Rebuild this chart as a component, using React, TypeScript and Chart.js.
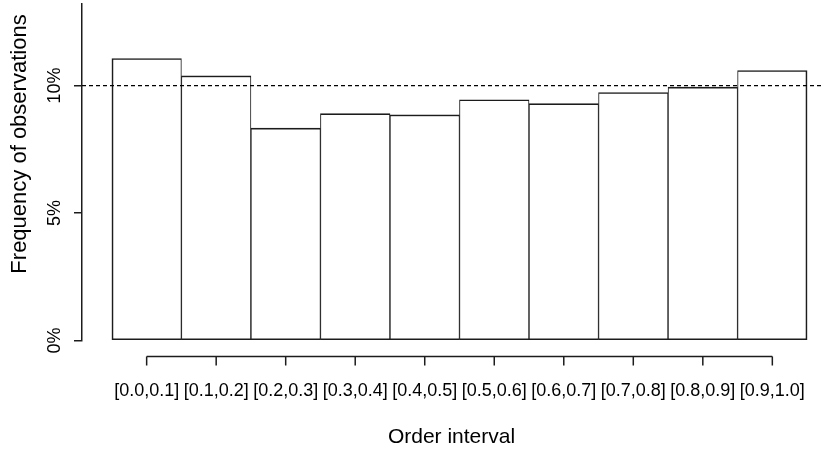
import React, { useEffect, useRef } from "react";
import { Chart, registerables } from "chart.js";

Chart.register(...registerables);

const categories = [
  "[0.0,0.1]", "[0.1,0.2]", "[0.2,0.3]", "[0.3,0.4]", "[0.4,0.5]",
  "[0.5,0.6]", "[0.6,0.7]", "[0.7,0.8]", "[0.8,0.9]", "[0.9,1.0]",
];
const frequencies = [11.06, 10.38, 8.33, 8.9, 8.85, 9.44, 9.29, 9.73, 9.94, 10.59];
const referenceLevel = 10;
const yTicks = [0, 5, 10];
const yMax = 13.2;
const xMin = -0.93;
const xMax = 9.7;
const xTitle = "Order interval";
const yTitle = "Frequency of observations";

const FONT = "'Liberation Sans', Arial, sans-serif";
const INK = "#1c1c1c";

const rAxisPlugin = {
  id: "rAxis",
  afterDraw(chart: any) {
    const { ctx, chartArea } = chart;
    const xs = chart.scales.x;
    const first = xs.getPixelForValue(0);
    const last = xs.getPixelForValue(categories.length - 1);
    const y = chartArea.bottom + 16;
    ctx.save();
    ctx.strokeStyle = INK;
    ctx.lineWidth = 1.5;
    ctx.beginPath();
    ctx.moveTo(first, y);
    ctx.lineTo(last, y);
    for (let i = 0; i < categories.length; i++) {
      const px = xs.getPixelForValue(i);
      ctx.moveTo(px, y);
      ctx.lineTo(px, y + 9);
    }
    ctx.stroke();
    // y-axis title
    ctx.fillStyle = "#000";
    ctx.font = `22px ${FONT}`;
    ctx.textAlign = "center";
    ctx.textBaseline = "middle";
    ctx.translate(chartArea.left - 62, chartArea.top + 140);
    ctx.rotate(-Math.PI / 2);
    ctx.fillText(yTitle, 0, 0);
    ctx.restore();
  },
};

export default function App() {
  const ref = useRef<HTMLCanvasElement>(null);
  useEffect(() => {
    if (!ref.current) return;
    const n = frequencies.length;
    const chart = new Chart(ref.current, {
      type: "bar",
      data: {
        datasets: [
          {
            type: "line",
            data: [
              { x: xMin, y: referenceLevel },
              { x: xMax, y: referenceLevel },
            ],
            borderColor: "#000",
            borderWidth: 1.4,
            borderDash: [4, 3],
            pointRadius: 0,
            order: 0,
          } as any,
          {
            type: "bar",
            data: frequencies.map((v, i) => ({ x: i, y: v })),
            backgroundColor: "#ffffff",
            borderColor: INK,
            borderWidth: (c: any) => ({
              top: 1.6,
              bottom: 1.6,
              left: c.dataIndex === 0 ? 1.7 : 1,
              right: c.dataIndex === n - 1 ? 1.7 : 1,
            }),
            borderSkipped: false,
            barPercentage: 1,
            categoryPercentage: 1,
            order: 1,
          } as any,
        ],
      },
      plugins: [rAxisPlugin],
      options: {
        responsive: false,
        animation: false,
        devicePixelRatio: 1,
        layout: { padding: { top: 4, left: 0, right: 0, bottom: 0 } },
        plugins: { legend: { display: false }, tooltip: { enabled: false }, title: { display: false } },
        scales: {
          x: {
            type: "linear",
            offset: false,
            min: xMin,
            max: xMax,
            grid: { display: false, drawTicks: false, offset: false },
            border: { display: false },
            ticks: {
              stepSize: 1,
              includeBounds: false,
              autoSkip: false,
              maxRotation: 0,
              minRotation: 0,
              padding: 40,
              color: "#000",
              font: { family: FONT, size: 18 },
              callback: (v: any) => categories[v] ?? "",
            },
            title: {
              display: true,
              text: xTitle,
              color: "#000",
              font: { family: FONT, size: 21 },
              padding: { top: 0, bottom: 1 },
            },
            afterFit: (s: any) => {
              s.height = 110.5;
              s.paddingLeft = 0;
              s.paddingRight = 0;
            },
          } as any,
          y: {
            type: "linear",
            min: 0,
            max: yMax,
            afterBuildTicks: (s: any) => {
              s.ticks = yTicks.map((v) => ({ value: v }));
            },
            grid: {
              display: true,
              drawOnChartArea: false,
              drawTicks: true,
              tickLength: 8,
              color: INK,
              lineWidth: 1.5,
            },
            border: { display: true, color: INK, width: 1.5 },
            ticks: {
              minRotation: 90,
              maxRotation: 90,
              crossAlign: "center",
              padding: 1,
              color: "#000",
              font: { family: FONT, size: 18 },
              callback: (v: any) => `${v}%`,
            },
            afterFit: (s: any) => {
              s.width = 82;
              s.paddingTop = 0;
              s.paddingBottom = 0;
            },
          } as any,
        },
      },
    });
    return () => chart.destroy();
  }, []);
  return (
    <div style={{ position: "absolute", left: 0, top: 0, width: 821, height: 451 }}>
      <canvas ref={ref} width={821} height={451} style={{ display: "block" }} />
    </div>
  );
}
